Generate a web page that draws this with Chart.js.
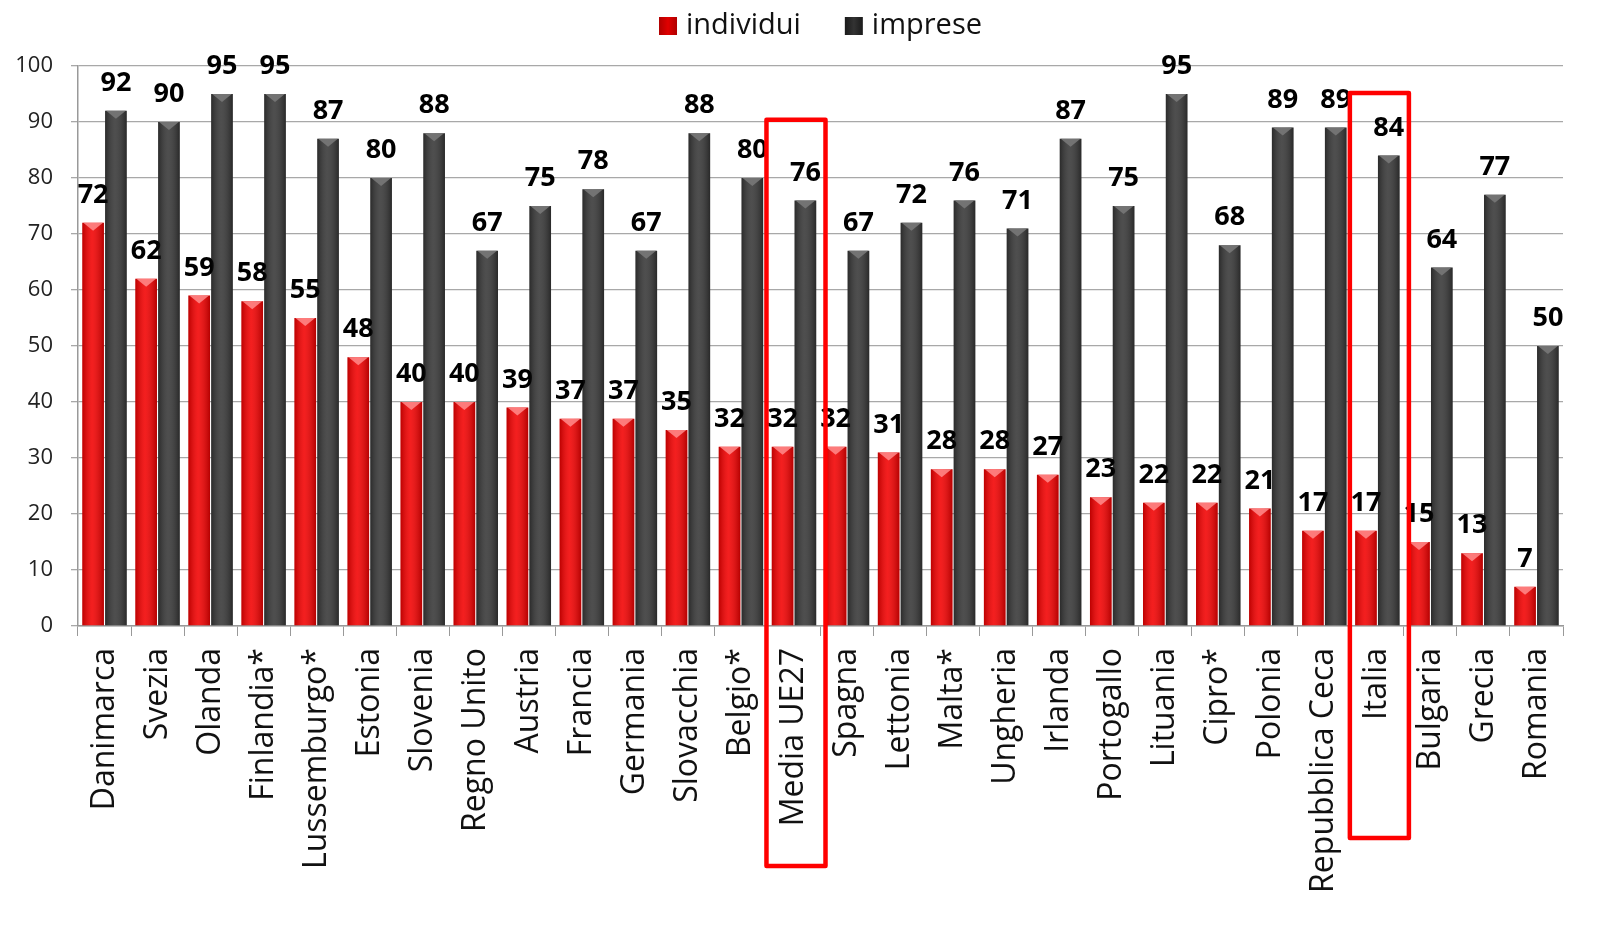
<!DOCTYPE html>
<html>
<head>
<meta charset="utf-8">
<script src="https://cdn.jsdelivr.net/npm/chart.js"></script>
<style>
  html, body { margin: 0; padding: 0; background: #fff; }
  #wrap { width: 1621px; height: 929px; }
</style>
</head>
<body>
<div id="wrap"><canvas id="chart"></canvas></div>
<script>
const countries = ['Danimarca', 'Svezia', 'Olanda', 'Finlandia*', 'Lussemburgo*', 'Estonia', 'Slovenia',
  'Regno Unito', 'Austria', 'Francia', 'Germania', 'Slovacchia', 'Belgio*', 'Media UE27', 'Spagna',
  'Lettonia', 'Malta*', 'Ungheria', 'Irlanda', 'Portogallo', 'Lituania', 'Cipro*', 'Polonia',
  'Repubblica Ceca', 'Italia', 'Bulgaria', 'Grecia', 'Romania'];
const individui = [72, 62, 59, 58, 55, 48, 40, 40, 39, 37, 37, 35, 32, 32, 32, 31, 28, 28, 27, 23, 22, 22, 21, 17, 17, 15, 13, 7];
const imprese = [92, 90, 95, 95, 87, 80, 88, 67, 75, 78, 67, 88, 80, 76, 67, 72, 76, 71, 87, 75, 95, 68, 89, 89, 84, 64, 77, 50];
const yTicks = [0, 10, 20, 30, 40, 50, 60, 70, 80, 90, 100];

// highlighted categories (red frames): category, top value, how far below the axis
const highlights = [
  { label: 'Media UE27', top: 90.4, below: 240 },
  { label: 'Italia', top: 95.2, below: 212 }
];

const FONT = '"Open Sans", "Noto Sans", sans-serif';
const legendItems = [
  { text: 'individui', fill: '#e00000', edge: '#b00000' },
  { text: 'imprese', fill: '#333333', edge: '#1a1a1a' }
];

// gradient sheen, bevelled tops, value labels, legend and the red frames
const decorations = {
  id: 'decorations',
  afterDatasetsDraw(chart) {
    const ctx = chart.ctx;
    const bevel = ['rgba(255,140,140,0.85)', 'rgba(120,120,120,0.9)'];
    chart.data.datasets.forEach((ds, di) => {
      const meta = chart.getDatasetMeta(di);
      meta.data.forEach((bar, i) => {
        const w = bar.width, l = bar.x - w / 2, r = bar.x + w / 2;
        const h = bar.base - bar.y;
        ctx.save();
        const g = ctx.createLinearGradient(l, 0, r, 0);
        g.addColorStop(0, 'rgba(0,0,0,0.22)');
        g.addColorStop(0.45, 'rgba(255,255,255,0.12)');
        g.addColorStop(1, 'rgba(0,0,0,0.25)');
        ctx.fillStyle = g;
        ctx.fillRect(l, bar.y, w, h);
        ctx.beginPath();
        ctx.moveTo(l + 1, bar.y);
        ctx.lineTo(r - 1, bar.y);
        ctx.lineTo(bar.x, bar.y + Math.min(8, h));
        ctx.closePath();
        ctx.fillStyle = bevel[di];
        ctx.fill();
        ctx.fillStyle = '#000';
        ctx.font = 'bold 27px ' + FONT;
        ctx.textAlign = 'center';
        ctx.textBaseline = 'bottom';
        ctx.fillText(String(ds.data[i]), bar.x, bar.y - 14);
        ctx.restore();
      });
    });

    const xs = chart.scales.x, ys = chart.scales.y;
    const step = xs.width / countries.length;
    highlights.forEach(hl => {
      const idx = countries.indexOf(hl.label);
      const cx = xs.getPixelForValue(idx);
      const l = cx - step / 2 - 1, r = cx + step / 2 + 5;
      const t = ys.getPixelForValue(hl.top), b = ys.bottom + hl.below;
      ctx.save();
      ctx.strokeStyle = '#ff0000';
      ctx.lineWidth = 4.5;
      ctx.lineJoin = 'round';
      ctx.strokeRect(l, t, r - l, b - t);
      ctx.restore();
    });

    // legend centred over the plot area
    ctx.save();
    ctx.font = '29px ' + FONT;
    ctx.textBaseline = 'middle';
    const box = 18, gapText = 9, gapItem = 44, ly = 26;
    const widths = legendItems.map(it => box + gapText + ctx.measureText(it.text).width);
    const total = widths.reduce((a, b) => a + b, 0) + gapItem * (legendItems.length - 1);
    let x = (chart.chartArea.left + chart.chartArea.right) / 2 - total / 2;
    legendItems.forEach((it, k) => {
      const g = ctx.createLinearGradient(x, 0, x + box, 0);
      g.addColorStop(0, it.edge);
      g.addColorStop(0.5, it.fill);
      g.addColorStop(1, it.edge);
      ctx.fillStyle = g;
      ctx.fillRect(x, ly - box / 2, box, box);
      ctx.fillStyle = '#111';
      ctx.fillText(it.text, x + box + gapText, ly);
      x += widths[k] + gapItem;
    });
    ctx.restore();
  }
};

new Chart(document.getElementById('chart'), {
  type: 'bar',
  data: {
    labels: countries,
    datasets: [
      { label: 'individui', data: individui, backgroundColor: '#f20000', borderWidth: 0 },
      { label: 'imprese', data: imprese, backgroundColor: '#363636', borderWidth: 0 }
    ]
  },
  options: {
    responsive: true,
    maintainAspectRatio: false,
    animation: false,
    categoryPercentage: 0.86,
    barPercentage: 0.95,
    layout: { padding: { left: 0, right: 58, top: 66, bottom: 0 } },
    plugins: {
      tooltip: { enabled: false },
      legend: { display: false }
    },
    scales: {
      x: {
        offset: true,
        grid: { display: true, drawOnChartArea: false, offset: true, color: '#999', tickLength: 10 },
        border: { color: '#999', width: 1.5 },
        ticks: {
          color: '#111',
          font: { family: FONT, size: 32 },
          minRotation: 90,
          maxRotation: 90,
          autoSkip: false,
          padding: 12
        },
        afterFit: s => { s.height = 303; }
      },
      y: {
        min: 0,
        max: 100,
        afterBuildTicks: s => { s.ticks = yTicks.map(v => ({ value: v })); },
        grid: { color: '#a8a8a8', lineWidth: 1.3, tickLength: 7 },
        border: { color: '#999', width: 1.5 },
        ticks: { color: '#222', font: { family: FONT, size: 22 }, padding: 18 },
        afterFit: s => { s.width = 78; }
      }
    }
  },
  plugins: [decorations]
});
</script>
</body>
</html>
